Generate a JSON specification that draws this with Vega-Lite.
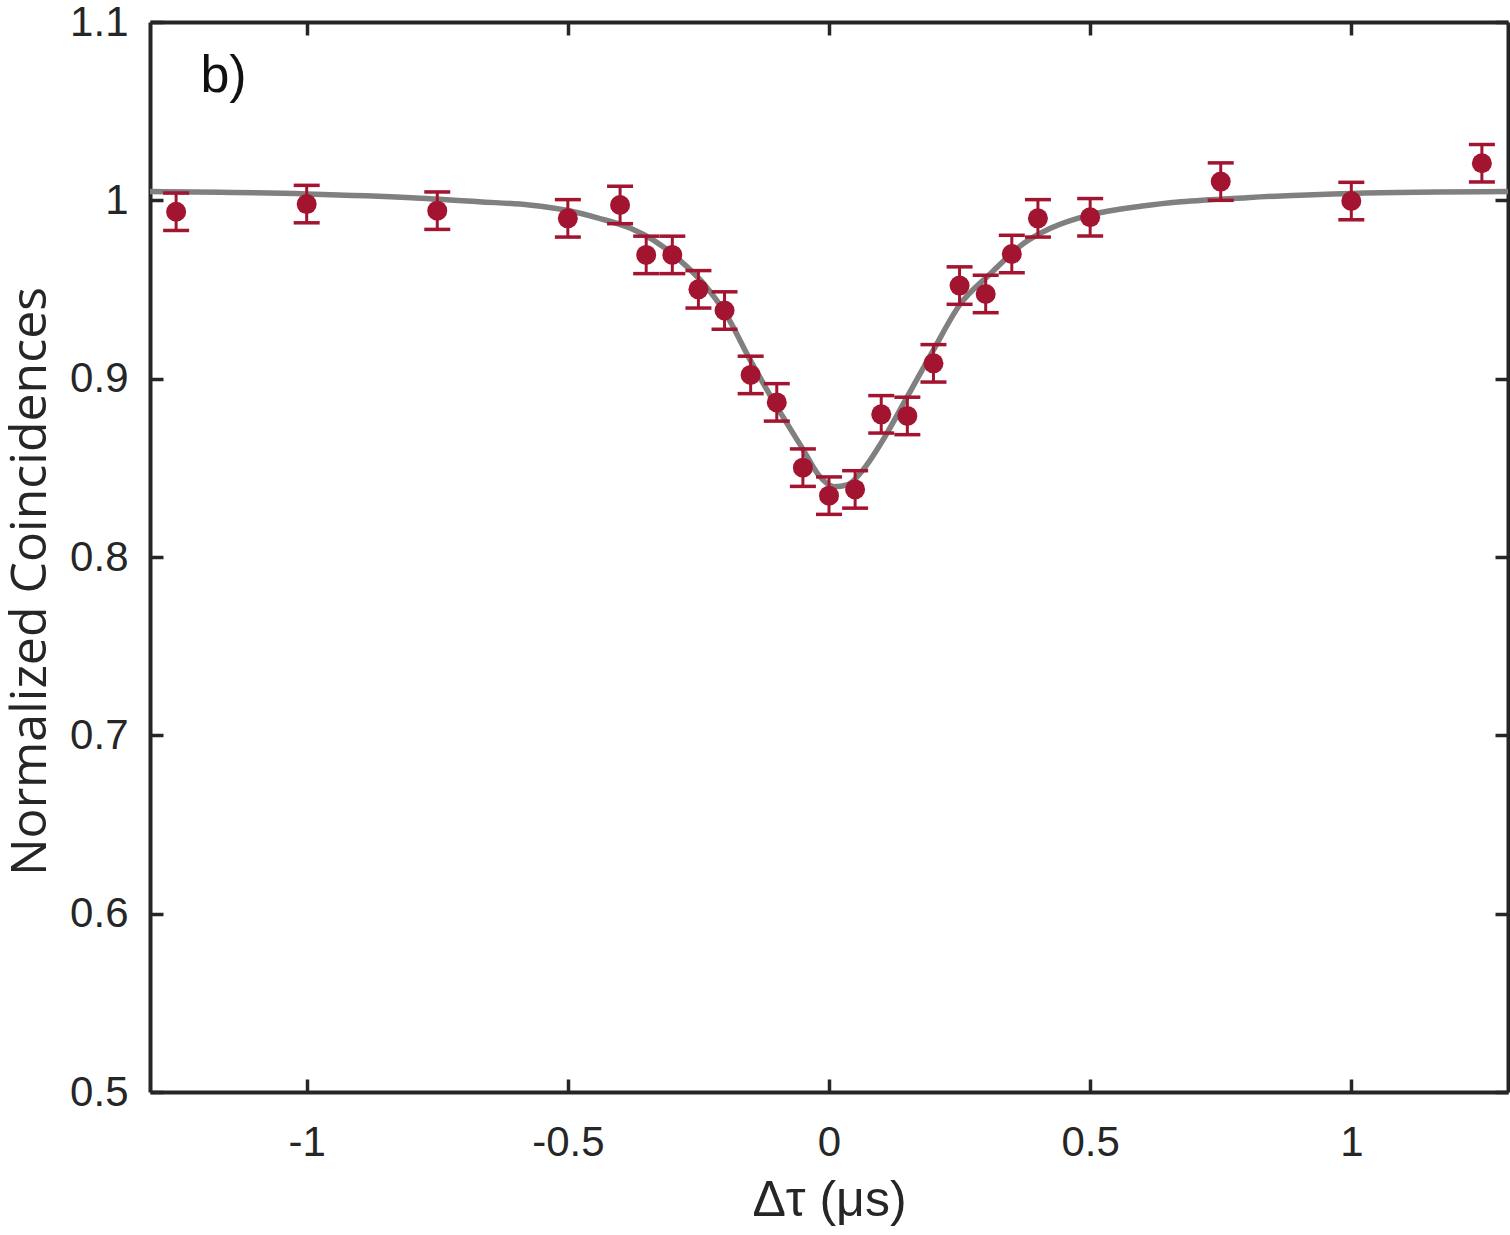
{
  "$schema": "https://vega.github.io/schema/vega-lite/v6.json",
  "width": 1358,
  "height": 1070,
  "autosize": "none",
  "padding": {"left": 150, "top": 22, "right": 2, "bottom": 143},
  "background": "white",
  "config": {
    "view": {"stroke": null},
    "axis": {
      "grid": false,
      "domainColor": "#262626",
      "domainWidth": 4,
      "tickColor": "#262626",
      "tickWidth": 3.5,
      "tickSize": -13,
      "labelColor": "#262626",
      "labelFont": "Liberation Sans",
      "labelFontSize": 42,
      "titleColor": "#262626",
      "titleFontWeight": "normal"
    }
  },
  "datasets": {
    "points": [
      {"x": -1.25, "y": 0.9936, "lo": 0.9831, "hi": 1.0041},
      {"x": -1.0, "y": 0.9979, "lo": 0.9874, "hi": 1.0084},
      {"x": -0.75, "y": 0.9942, "lo": 0.9837, "hi": 1.0047},
      {"x": -0.5, "y": 0.9899, "lo": 0.9794, "hi": 1.0004},
      {"x": -0.4, "y": 0.9974, "lo": 0.9869, "hi": 1.0079},
      {"x": -0.35, "y": 0.9694, "lo": 0.9589, "hi": 0.9799},
      {"x": -0.3, "y": 0.9694, "lo": 0.9589, "hi": 0.9799},
      {"x": -0.25, "y": 0.9501, "lo": 0.9396, "hi": 0.9606},
      {"x": -0.2, "y": 0.9382, "lo": 0.9277, "hi": 0.9487},
      {"x": -0.15, "y": 0.9021, "lo": 0.8916, "hi": 0.9126},
      {"x": -0.1, "y": 0.8867, "lo": 0.8762, "hi": 0.8972},
      {"x": -0.05, "y": 0.8501, "lo": 0.8396, "hi": 0.8606},
      {"x": 0.0, "y": 0.8344, "lo": 0.8239, "hi": 0.8449},
      {"x": 0.05, "y": 0.8379, "lo": 0.8274, "hi": 0.8484},
      {"x": 0.1, "y": 0.88, "lo": 0.8695, "hi": 0.8905},
      {"x": 0.15, "y": 0.8791, "lo": 0.8686, "hi": 0.8896},
      {"x": 0.2, "y": 0.9086, "lo": 0.8981, "hi": 0.9191},
      {"x": 0.25, "y": 0.9522, "lo": 0.9417, "hi": 0.9627},
      {"x": 0.3, "y": 0.9475, "lo": 0.937, "hi": 0.958},
      {"x": 0.35, "y": 0.9699, "lo": 0.9594, "hi": 0.9804},
      {"x": 0.4, "y": 0.9899, "lo": 0.9794, "hi": 1.0004},
      {"x": 0.5, "y": 0.9905, "lo": 0.98, "hi": 1.001},
      {"x": 0.75, "y": 1.0105, "lo": 1.0, "hi": 1.021},
      {"x": 1.0, "y": 0.9996, "lo": 0.9891, "hi": 1.0101},
      {"x": 1.25, "y": 1.0208, "lo": 1.0103, "hi": 1.0313}
    ],
    "fit": [
      {"x": -1.3, "y": 1.0049},
      {"x": -1.0, "y": 1.0036},
      {"x": -0.8, "y": 1.0015},
      {"x": -0.67, "y": 0.9992},
      {"x": -0.574, "y": 0.9974},
      {"x": -0.5, "y": 0.9943},
      {"x": -0.44, "y": 0.9899},
      {"x": -0.38, "y": 0.9843},
      {"x": -0.337, "y": 0.9778},
      {"x": -0.286, "y": 0.9665},
      {"x": -0.235, "y": 0.9516},
      {"x": -0.2, "y": 0.9375},
      {"x": -0.15, "y": 0.91},
      {"x": -0.1, "y": 0.8843},
      {"x": -0.05, "y": 0.8605},
      {"x": -0.02, "y": 0.846},
      {"x": 0.01, "y": 0.8394},
      {"x": 0.035, "y": 0.8404},
      {"x": 0.065, "y": 0.8488},
      {"x": 0.1, "y": 0.864},
      {"x": 0.15, "y": 0.8899},
      {"x": 0.2, "y": 0.9161},
      {"x": 0.25, "y": 0.9413},
      {"x": 0.31, "y": 0.9591},
      {"x": 0.373, "y": 0.9759},
      {"x": 0.424, "y": 0.9843},
      {"x": 0.5, "y": 0.9918},
      {"x": 0.6, "y": 0.9968},
      {"x": 0.674, "y": 0.9992},
      {"x": 0.8, "y": 1.0015},
      {"x": 1.0, "y": 1.0039},
      {"x": 1.3, "y": 1.0049}
    ],
    "labels": [
      {"x": -1.2035, "y": 1.0607, "label": "b)"}
    ]
  },
  "layer": [
    {
      "data": {"name": "fit"},
      "mark": {"type": "line", "color": "#808080", "strokeWidth": 5.5, "interpolate": "monotone"},
      "encoding": {
        "x": {
          "field": "x", "type": "quantitative",
          "scale": {"domain": [-1.3, 1.3], "nice": false, "zero": false},
          "axis": {
            "orient": "bottom",
            "values": [-1, -0.5, 0, 0.5, 1],
            "labelExpr": "'' + datum.value",
            "labelPadding": 43,
            "title": "Δτ (μs)",
            "titleFont": "Liberation Sans",
            "titleFontSize": 50,
            "titlePadding": 12
          }
        },
        "y": {
          "field": "y", "type": "quantitative",
          "scale": {"domain": [0.5, 1.1], "nice": false, "zero": false},
          "axis": {
            "orient": "left",
            "values": [0.5, 0.6, 0.7, 0.8, 0.9, 1, 1.1],
            "labelExpr": "'' + datum.value",
            "labelPadding": 35,
            "title": "Normalized Coincidences",
            "titleFont": "Open Sans",
            "titleFontSize": 50,
            "titlePadding": 14,
            "titleY": 559
          }
        }
      }
    },
    {
      "data": {"name": "points"},
      "mark": {"type": "rule", "color": "#a2142f", "strokeWidth": 3, "opacity": 1},
      "encoding": {
        "x": {"field": "x", "type": "quantitative", "scale": {"domain": [-1.3, 1.3], "nice": false, "zero": false},
          "axis": {"orient": "top", "values": [-1, -0.5, 0, 0.5, 1], "labels": false, "title": null}},
        "y": {"field": "lo", "type": "quantitative", "scale": {"domain": [0.5, 1.1], "nice": false, "zero": false},
          "axis": {"orient": "right", "values": [0.5, 0.6, 0.7, 0.8, 0.9, 1, 1.1], "labels": false, "title": null}},
        "y2": {"field": "hi"}
      }
    },
    {
      "data": {"name": "points"},
      "mark": {"type": "tick", "orient": "horizontal", "color": "#a2142f", "size": 26, "thickness": 3.5, "opacity": 1},
      "encoding": {
        "x": {"field": "x", "type": "quantitative", "axis": null},
        "y": {"field": "lo", "type": "quantitative", "axis": null}
      }
    },
    {
      "data": {"name": "points"},
      "mark": {"type": "tick", "orient": "horizontal", "color": "#a2142f", "size": 26, "thickness": 3.5, "opacity": 1},
      "encoding": {
        "x": {"field": "x", "type": "quantitative", "axis": null},
        "y": {"field": "hi", "type": "quantitative", "axis": null}
      }
    },
    {
      "data": {"name": "points"},
      "mark": {"type": "circle", "color": "#a2142f", "size": 400, "opacity": 1},
      "encoding": {
        "x": {"field": "x", "type": "quantitative", "axis": null},
        "y": {"field": "y", "type": "quantitative", "axis": null}
      }
    },
    {
      "data": {"name": "labels"},
      "mark": {"type": "text", "align": "left", "baseline": "alphabetic", "font": "Liberation Sans", "fontSize": 52, "color": "#111111"},
      "encoding": {
        "x": {"field": "x", "type": "quantitative", "axis": null},
        "y": {"field": "y", "type": "quantitative", "axis": null},
        "text": {"field": "label"}
      }
    }
  ],
  "resolve": {"axis": {"x": "independent", "y": "independent"}}
}
